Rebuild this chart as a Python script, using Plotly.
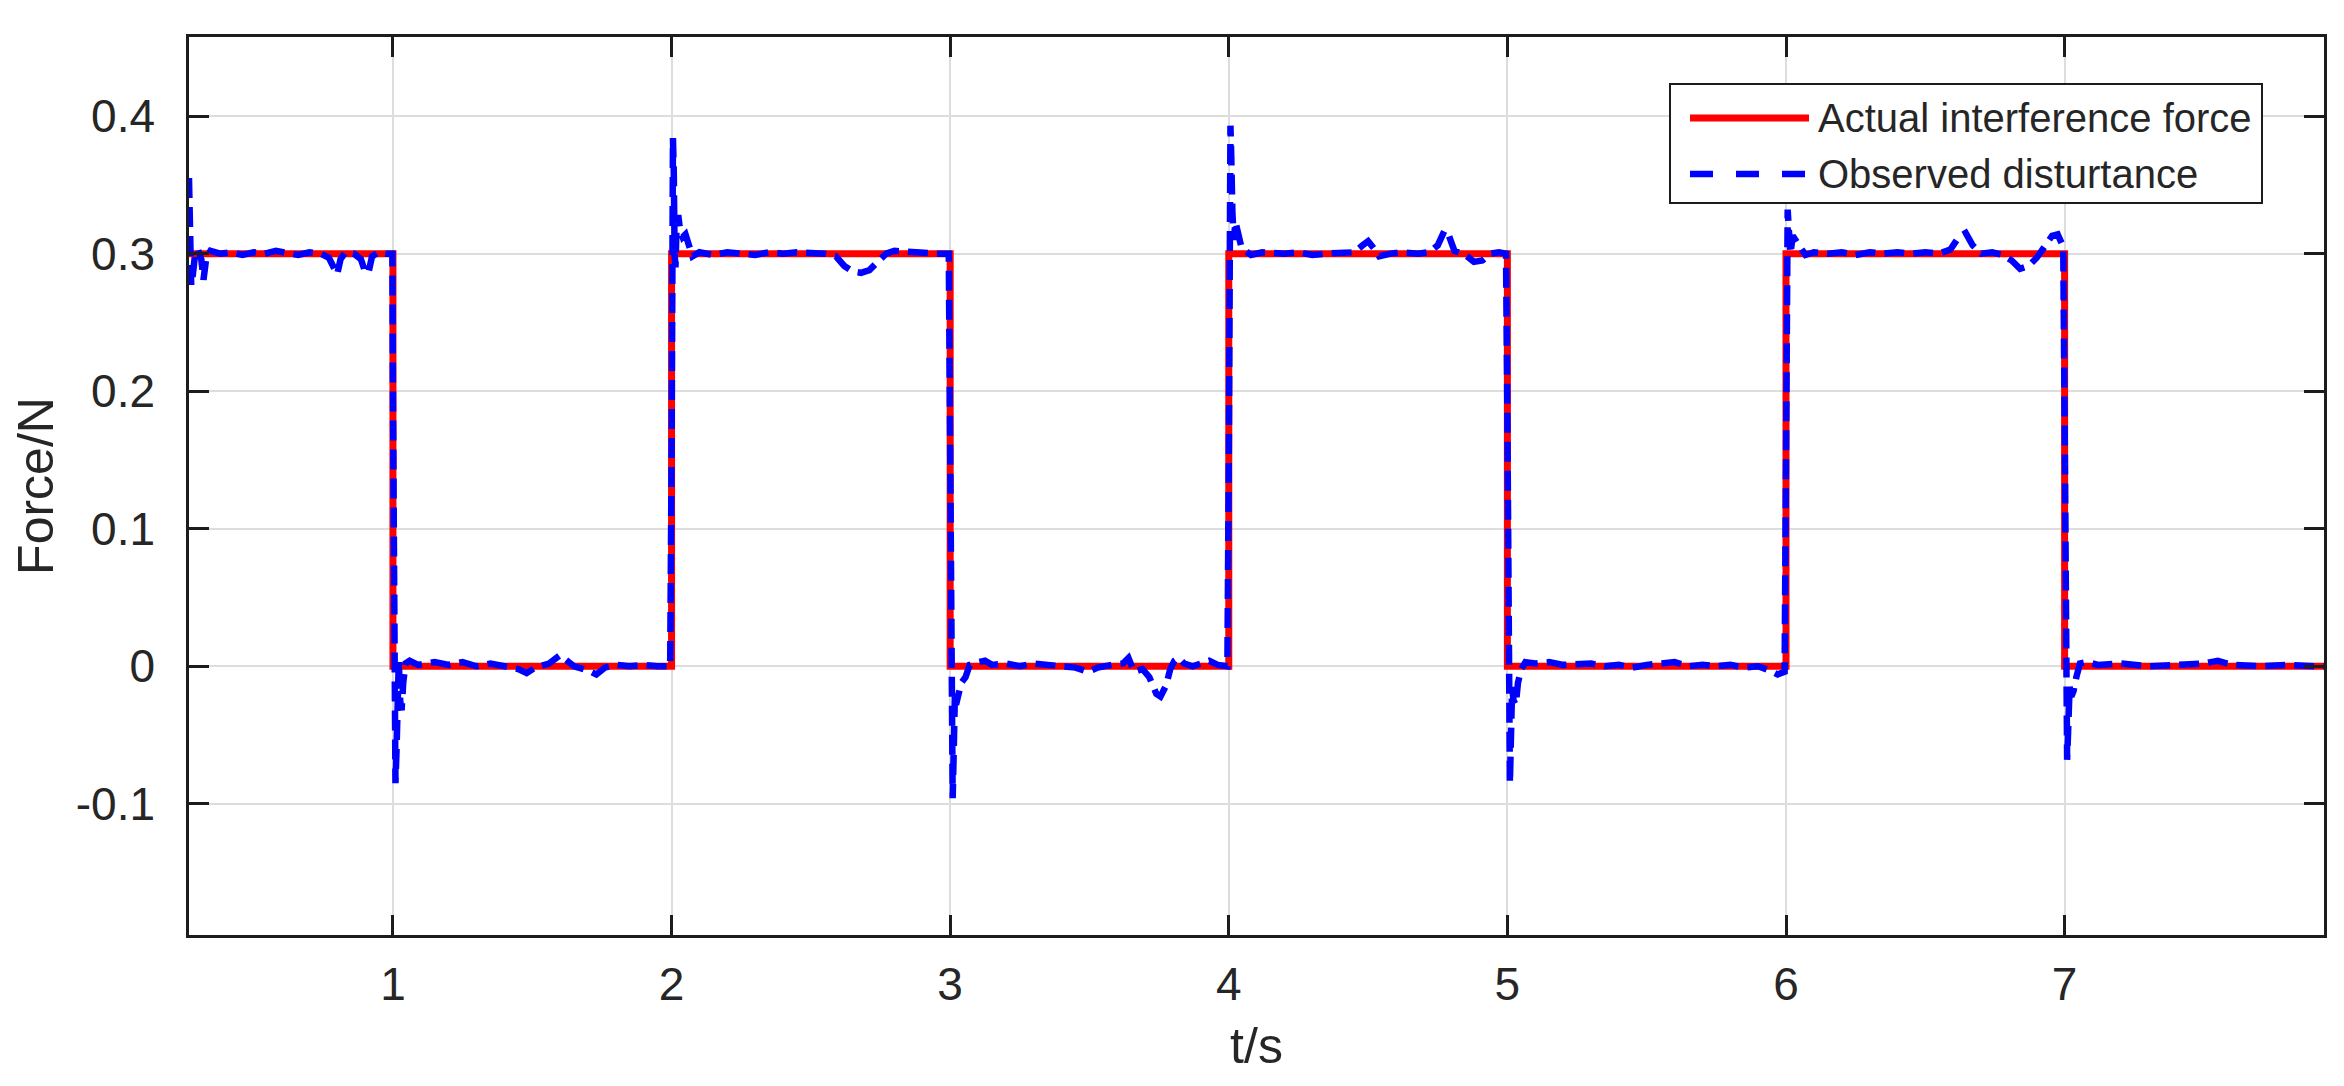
import plotly.graph_objects as go

# ---------------- data ----------------
actual_name = "Actual interference force"
observed_name = "Observed disturtance"

actual_t = [0.0, 1.0, 1.0, 2.0, 2.0, 3.0, 3.0, 4.0, 4.0, 5.0, 5.0, 6.0, 6.0, 7.0, 7.0, 8.0]
actual_f = [0.3, 0.3, 0.0, 0.0, 0.3, 0.3, 0.0, 0.0, 0.3, 0.3, 0.0, 0.0, 0.3, 0.3, 0.0, 0.0]

obs_t = [
    0.268, 0.272, 0.276, 0.282, 0.290, 0.300, 0.312, 0.320, 0.330, 0.345, 0.380, 0.420, 0.460,
    0.500, 0.540, 0.580, 0.620, 0.660, 0.700, 0.740, 0.770, 0.790, 0.800, 0.812, 0.830, 0.860, 0.885,
    0.900, 0.912, 0.925, 0.950, 0.975, 0.998,
    1.000, 1.003, 1.006, 1.009, 1.013, 1.017, 1.021, 1.026, 1.031, 1.037, 1.045, 1.060, 1.090, 1.150,
    1.200, 1.250, 1.300, 1.350, 1.400, 1.450, 1.480, 1.510, 1.560, 1.600, 1.625, 1.650, 1.700, 1.730,
    1.760, 1.800, 1.850, 1.900, 1.950, 1.995,
    2.000, 2.003, 2.005, 2.008, 2.011, 2.014, 2.018, 2.024, 2.030, 2.040, 2.050, 2.060, 2.075, 2.100,
    2.150, 2.200, 2.250, 2.300, 2.350, 2.400, 2.450, 2.500, 2.550, 2.590, 2.620, 2.650, 2.680, 2.710,
    2.740, 2.770, 2.800, 2.850, 2.900, 2.950, 2.995,
    3.000, 3.003, 3.006, 3.009, 3.013, 3.017, 3.021, 3.028, 3.040, 3.055, 3.070, 3.100, 3.125, 3.150,
    3.200, 3.250, 3.300, 3.350, 3.400, 3.450, 3.495, 3.530, 3.580, 3.620, 3.640, 3.660, 3.690, 3.715,
    3.740, 3.755, 3.775, 3.790, 3.805, 3.820, 3.840, 3.870, 3.900, 3.930, 3.960, 3.995,
    4.000, 4.003, 4.006, 4.009, 4.013, 4.018, 4.024, 4.032, 4.045, 4.060, 4.080, 4.120, 4.200, 4.250,
    4.300, 4.350, 4.400, 4.450, 4.480, 4.500, 4.520, 4.540, 4.580, 4.620, 4.680, 4.720, 4.750, 4.775,
    4.790, 4.810, 4.850, 4.880, 4.910, 4.940, 4.970, 4.995,
    5.000, 5.003, 5.006, 5.009, 5.013, 5.017, 5.022, 5.030, 5.038, 5.050, 5.065, 5.100, 5.150, 5.200,
    5.300, 5.350, 5.400, 5.450, 5.500, 5.550, 5.600, 5.650, 5.700, 5.750, 5.800, 5.850, 5.900, 5.940,
    5.970, 5.995,
    6.000, 6.003, 6.006, 6.010, 6.016, 6.024, 6.035, 6.050, 6.070, 6.100, 6.150, 6.200, 6.250, 6.300,
    6.350, 6.400, 6.450, 6.500, 6.550, 6.590, 6.620, 6.645, 6.670, 6.700, 6.740, 6.780, 6.810, 6.840,
    6.870, 6.900, 6.930, 6.955, 6.975, 6.995,
    7.000, 7.003, 7.006, 7.009, 7.013, 7.018, 7.024, 7.032, 7.042, 7.055, 7.080, 7.120, 7.200, 7.300,
    7.400, 7.500, 7.550, 7.600, 7.700, 7.800, 7.900, 7.950,
]
obs_f = [
    0.355, 0.300, 0.277, 0.285, 0.300, 0.303, 0.296, 0.281, 0.297, 0.302, 0.300, 0.301, 0.299,
    0.301, 0.300, 0.302, 0.300, 0.299, 0.301, 0.300, 0.297, 0.288, 0.285, 0.296, 0.301, 0.300, 0.296,
    0.287, 0.286, 0.298, 0.301, 0.300, 0.300,
    0.200, 0.050, -0.040, -0.085, -0.060, -0.010, 0.004, -0.025, -0.032, -0.012, 0.002, 0.004, 0.001, 0.003,
    0.001, 0.003, 0.000, 0.002, 0.000, -0.002, -0.005, -0.001, 0.002, 0.008, 0.004, 0.000, -0.003, -0.006,
    -0.001, 0.001, 0.000, 0.001, 0.000, 0.000,
    0.150, 0.276, 0.384, 0.360, 0.300, 0.290, 0.320, 0.328, 0.318, 0.312, 0.314, 0.306, 0.298, 0.301,
    0.299, 0.301, 0.300, 0.299, 0.301, 0.300, 0.301, 0.300, 0.300, 0.298, 0.291, 0.287, 0.286, 0.288,
    0.294, 0.300, 0.302, 0.301, 0.300, 0.300, 0.300,
    0.180, 0.020, -0.060, -0.096, -0.060, -0.020, -0.028, -0.022, -0.012, -0.008, 0.001, 0.003, 0.004, 0.001,
    0.002, 0.000, 0.002, 0.001, 0.000, -0.001, -0.004, -0.001, 0.001, 0.002, 0.006, -0.004, -0.002, -0.008,
    -0.020, -0.022, -0.014, -0.002, 0.004, 0.006, 0.002, 0.000, 0.002, 0.004, 0.001, 0.000,
    0.150, 0.300, 0.393, 0.370, 0.330, 0.310, 0.323, 0.315, 0.305, 0.302, 0.299, 0.301, 0.300, 0.301,
    0.299, 0.300, 0.301, 0.301, 0.306, 0.309, 0.304, 0.298, 0.300, 0.301, 0.300, 0.301, 0.306, 0.317,
    0.313, 0.302, 0.299, 0.294, 0.295, 0.300, 0.301, 0.300,
    0.180, 0.020, -0.050, -0.085, -0.050, -0.015, -0.025, -0.028, -0.012, -0.002, 0.003, 0.002, 0.003, 0.001,
    0.002, 0.000, 0.001, -0.001, 0.001, 0.002, 0.003, 0.000, 0.001, 0.000, 0.001, -0.001, 0.000, -0.003,
    -0.006, -0.004,
    0.150, 0.290, 0.332, 0.318, 0.300, 0.313, 0.310, 0.304, 0.299, 0.301, 0.300, 0.301, 0.299, 0.301,
    0.300, 0.301, 0.300, 0.301, 0.300, 0.303, 0.312, 0.315, 0.306, 0.300, 0.301, 0.299, 0.295, 0.289,
    0.291, 0.297, 0.305, 0.313, 0.314, 0.305,
    0.180, 0.020, -0.040, -0.068, -0.045, -0.015, -0.022, -0.018, -0.008, 0.002, 0.003, 0.001, 0.002, 0.000,
    0.001, 0.002, 0.004, 0.001, 0.000, 0.001, 0.000, 0.000,
]

x_tick_vals = [1, 2, 3, 4, 5, 6, 7]
x_tick_text = ["1", "2", "3", "4", "5", "6", "7"]
y_tick_vals = [-0.1, 0.0, 0.1, 0.2, 0.3, 0.4]
y_tick_text = ["-0.1", "0", "0.1", "0.2", "0.3", "0.4"]
x_range = [0.268, 7.931]
y_range = [-0.1954, 0.4575]

x_title = "t/s"
y_title = "Force/N"

# ---------------- style ----------------
RED = "#ff0000"
BLUE = "#0000ff"
AXIS = "#1c1c1c"
TEXT = "#262626"
GRID = "#dddddd"
FONT = "Liberation Sans, Arial, sans-serif"
OBS_DASH = "20px,9px"

fig = go.Figure()
fig.add_trace(go.Scatter(
    x=actual_t, y=actual_f, mode="lines", name=actual_name,
    line=dict(color=RED, width=7), showlegend=False, hoverinfo="x+y+name",
))
fig.add_trace(go.Scatter(
    x=obs_t, y=obs_f, mode="lines", name=observed_name,
    line=dict(color=BLUE, width=6.5, dash=OBS_DASH), showlegend=False, hoverinfo="x+y+name",
))

axis_common = dict(
    showline=True, linecolor=AXIS, linewidth=2.5, mirror="ticks",
    ticks="inside", ticklen=20, tickwidth=2.5, tickcolor=AXIS,
    showgrid=True, gridcolor=GRID, gridwidth=2, zeroline=False,
    tickfont=dict(family=FONT, size=46, color=TEXT),
)

fig.update_xaxes(
    range=x_range, tickmode="array", tickvals=x_tick_vals, ticktext=x_tick_text,
    ticklabelstandoff=7,
    title=dict(text=x_title, font=dict(family=FONT, size=50, color=TEXT), standoff=20),
    **axis_common,
)
fig.update_yaxes(
    range=y_range, tickmode="array", tickvals=y_tick_vals, ticktext=y_tick_text,
    ticklabelstandoff=22,
    title=dict(text=y_title, font=dict(family=FONT, size=50, color=TEXT), standoff=18),
    **axis_common,
)

# ---------------- legend (drawn in paper space, MATLAB style) ----------------
L, R, T, B = 181, 2316, 29, 927
def px(xp):
    return (xp - L) / (R - L)
def py(yp):
    return (B - yp) / (B - T)

shapes = [
    dict(type="rect", xref="paper", yref="paper",
         x0=px(1662), x1=px(2254), y0=py(195), y1=py(76),
         line=dict(color=AXIS, width=2), fillcolor="white", layer="above"),
    dict(type="line", xref="paper", yref="paper",
         x0=px(1682), x1=px(1801), y0=py(110), y1=py(110),
         line=dict(color=RED, width=7), layer="above"),
    dict(type="line", xref="paper", yref="paper",
         x0=px(1682), x1=px(1801), y0=py(166), y1=py(166),
         line=dict(color=BLUE, width=6.5, dash="23px,23px"), layer="above"),
]
annotations = [
    dict(xref="paper", yref="paper", x=px(1808), y=py(110), xanchor="left", yanchor="middle",
         text=actual_name, showarrow=False, font=dict(family=FONT, size=40, color=TEXT)),
    dict(xref="paper", yref="paper", x=px(1808), y=py(166), xanchor="left", yanchor="middle",
         text=observed_name, showarrow=False, font=dict(family=FONT, size=40, color=TEXT)),
]

fig.update_layout(
    width=2344, height=1086, autosize=False,
    margin=dict(l=L, r=2344 - R, t=T, b=1086 - B, pad=0),
    paper_bgcolor="white", plot_bgcolor="white",
    showlegend=False, shapes=shapes, annotations=annotations,
    font=dict(family=FONT, color=TEXT),
)
fig.update_xaxes(automargin=False)
fig.update_yaxes(automargin=False)

fig.write_html("out.html")
